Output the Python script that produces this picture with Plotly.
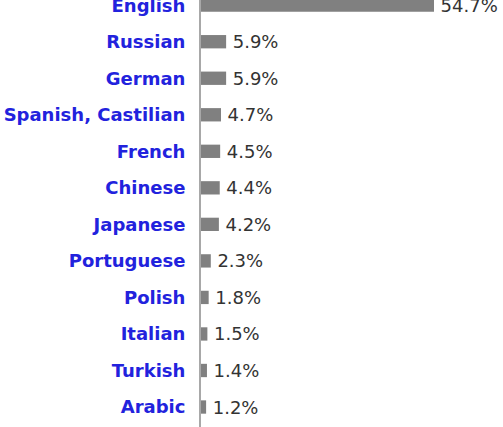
import plotly.graph_objects as go

# content languages share (%)
languages = ["English", "Russian", "German", "Spanish, Castilian", "French", "Chinese",
             "Japanese", "Portuguese", "Polish", "Italian", "Turkish", "Arabic"]
share = [54.7, 5.9, 5.9, 4.7, 4.5, 4.4, 4.2, 2.3, 1.8, 1.5, 1.4, 1.2]
share_labels = ["54.7%", "5.9%", "5.9%", "4.7%", "4.5%", "4.4%",
                "4.2%", "2.3%", "1.8%", "1.5%", "1.4%", "1.2%"]

fig = go.Figure(go.Bar(
    x=share,
    y=languages,
    orientation="h",
    width=0.365,
    marker=dict(color="#808080", line=dict(width=0)),
    text=share_labels,
    texttemplate="\u2009%{text}",
    textposition="outside",
    constraintext="none",
    cliponaxis=False,
    textfont=dict(family="DejaVu Sans", size=18, color="#333333"),
    hoverinfo="skip",
))

fig.update_layout(
    width=503, height=427,
    margin=dict(l=201, r=0, t=0, b=0, autoexpand=False),
    paper_bgcolor="white", plot_bgcolor="white",
    showlegend=False,
    xaxis=dict(range=[0, 70.9], showgrid=False, zeroline=False,
               showticklabels=False, showline=False, automargin=False),
    yaxis=dict(type="category", range=[11.547, -0.142], automargin=False,
               showgrid=False, zeroline=False,
               showline=True, linecolor="#a8a8a8", linewidth=2,
               ticks="", ticklabelstandoff=10,
               tickfont=dict(family="DejaVu Sans", size=18, color="#2222dd",
                             weight="bold")),
)

# the page's default 8px body margin would shift the whole chart
fig.write_html("out.html", config={"displayModeBar": False},
               post_script="document.body.style.margin='0px';")
